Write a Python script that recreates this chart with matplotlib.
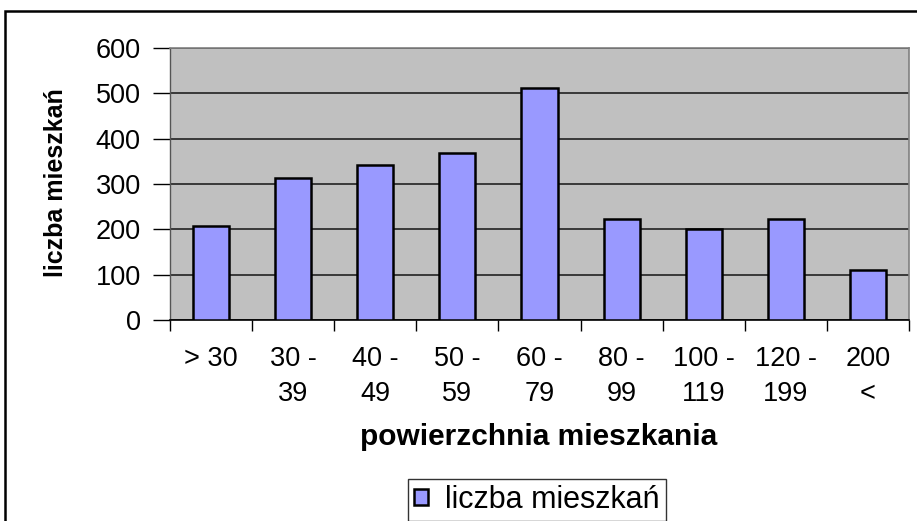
import numpy as np
import matplotlib
matplotlib.use("Agg")
import matplotlib.pyplot as plt
from matplotlib.patches import Rectangle

plt.rcParams['font.family'] = ['Liberation Sans', 'DejaVu Sans']

# data
categories = ["> 30", "30 -\n39", "40 -\n49", "50 -\n59", "60 -\n79",
              "80 -\n99", "100 -\n119", "120 -\n199", "200\n<"]
counts = [208, 313, 343, 369, 511, 223, 201, 223, 111]
y_ticks = [0, 100, 200, 300, 400, 500, 600]
series_name = "liczba mieszkań"

W, H = 917, 521
fig = plt.figure(figsize=(W / 100, H / 100), dpi=100)

# outer frame of the chart object (runs past right and bottom edges)
frame = Rectangle((5 / W, -0.2), 1.0, 1 - 11 / H + 0.2, transform=fig.transFigure,
                  fill=False, edgecolor="black", linewidth=1.8, clip_on=False)
fig.patches.append(frame)

ax = fig.add_axes([170 / W, 1 - 320 / H, (909 - 170) / W, (320 - 48) / H])
ax.set_facecolor("#C0C0C0")

x = np.arange(len(categories))
ax.bar(x, counts, width=0.44, color="#9999FF", edgecolor="black",
       linewidth=1.8, zorder=3, label=series_name)

ax.set_xlim(-0.5, len(categories) - 0.5)
ax.set_ylim(0, 600)
ax.set_yticks(y_ticks)
ax.yaxis.grid(True, color="#222222", linewidth=1.2, zorder=1)
ax.set_axisbelow(True)

ax.tick_params(axis="y", direction="out", length=12, width=1, pad=9, labelsize=19.5)
ax.set_xticks(x)
ax.set_xticklabels(categories, linespacing=1.42)
ax.set_xticks(np.arange(len(categories) + 1) - 0.5, minor=True)
ax.tick_params(axis="x", which="major", length=0, pad=19, labelsize=19.5)
ax.tick_params(axis="x", which="minor", direction="out", length=8, width=1)

for side in ["top", "right"]:
    ax.spines[side].set_color("#808080")
    ax.spines[side].set_linewidth(1.2)
ax.spines["left"].set_color("#555555")
ax.spines["left"].set_linewidth(1.0)
ax.spines["bottom"].set_color("black")
ax.spines["bottom"].set_linewidth(1.2)

fig.text(539 / W, 1 - 437 / H, "powierzchnia mieszkania", ha="center", va="center",
         fontsize=21.5, fontweight="bold")
fig.text(56 / W, 1 - 183 / H, "liczba mieszkań", ha="center", va="center",
         rotation=90, fontsize=18, fontweight="bold")

leg = fig.legend(loc="upper center", bbox_to_anchor=(537 / W, 1 - 479 / H),
                 fontsize=22, frameon=True, fancybox=False, shadow=False,
                 handlelength=0.45, handleheight=0.45, handletextpad=0.55,
                 borderpad=0.2, borderaxespad=0)
leg.get_frame().set_edgecolor("black")
leg.get_frame().set_linewidth(1.0)

fig.savefig("out.png", dpi=100)
